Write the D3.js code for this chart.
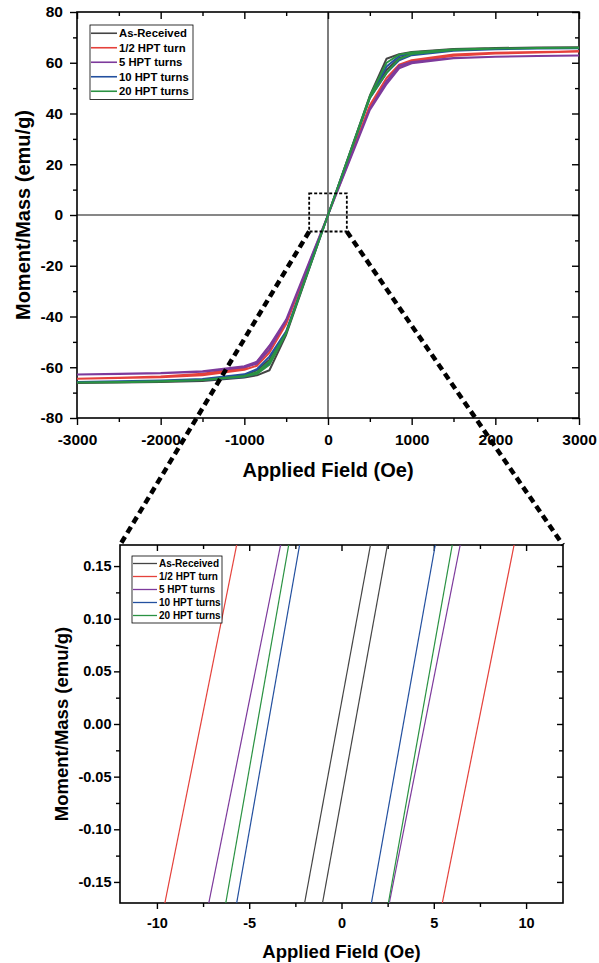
<!DOCTYPE html>
<html>
<head>
<meta charset="utf-8">
<script src="https://cdn.jsdelivr.net/npm/d3@7"></script>
<style>
  body { margin: 0; background: #fff; }
  text { font-family: "Liberation Sans", Arial, sans-serif; font-weight: bold; }
</style>
</head>
<body>
<div id="chart"></div>
<script>
// ---- data ----
const seriesNames = ["As-Received", "1/2 HPT turn", "5 HPT turns", "10 HPT turns", "20 HPT turns"];
const seriesColors = ["#444444", "#e5413b", "#7d3a9c", "#23509f", "#2a9242"];

// full loop: descending branch (+3000 -> -3000), then ascending branch
const fieldDesc = [3000, 2500, 2000, 1500, 1000, 850, 700, 500, 0, -500, -700, -850, -1000, -1500, -2000, -2500, -3000];
const fieldAsc = [-3000, -2500, -2000, -1500, -1000, -850, -700, -500, 0, 500, 700, 850, 1000, 1500, 2000, 2500, 3000];

const asReceivedDesc = [66.1, 66.0, 65.8, 65.4, 64.2, 63.4, 61.6, 47.0, 0.0, -46.2, -57.0, -61.2, -63.2, -65.0, -65.7, -66.0, -66.2];
const asReceivedAsc = [-66.2, -66.0, -65.8, -65.4, -64.0, -63.2, -61.2, -47.2, 0.0, 46.4, 57.2, 61.8, 63.6, 65.2, 65.8, 66.0, 66.1];
const halfTurnDesc = [64.4, 64.2, 63.9, 63.3, 61.0, 59.2, 54.0, 43.2, 0.0, -42.4, -51.8, -58.0, -60.2, -62.6, -63.6, -64.1, -64.5];
const halfTurnAsc = [-64.5, -64.2, -63.9, -63.2, -61.0, -59.4, -54.2, -43.0, 0.0, 42.6, 52.2, 58.2, 60.4, 62.8, 63.6, 64.0, 64.4];
const fiveTurnsDesc = [62.9, 62.7, 62.4, 61.9, 60.3, 58.8, 52.8, 41.8, 0.0, -41.2, -51.5, -57.8, -59.6, -61.6, -62.3, -62.6, -62.9];
const fiveTurnsAsc = [-62.9, -62.7, -62.4, -61.8, -60.0, -58.6, -53.0, -41.6, 0.0, 41.4, 51.6, 57.8, 59.8, 61.8, 62.4, 62.7, 62.9];
const tenTurnsDesc = [65.7, 65.6, 65.4, 65.0, 63.8, 62.6, 58.5, 46.4, 0.0, -45.8, -55.8, -60.8, -62.8, -64.6, -65.2, -65.5, -65.8];
const tenTurnsAsc = [-65.8, -65.6, -65.4, -65.0, -63.8, -62.4, -58.4, -46.2, 0.0, 46.0, 56.0, 61.0, 63.0, 64.7, 65.3, 65.6, 65.7];
const twentyTurnsDesc = [65.9, 65.8, 65.6, 65.2, 64.0, 63.2, 60.0, 46.8, 0.0, -46.4, -57.6, -62.0, -63.4, -65.0, -65.6, -65.9, -66.0];
const twentyTurnsAsc = [-66.0, -65.8, -65.5, -65.0, -63.6, -62.6, -59.0, -46.6, 0.0, 46.2, 56.0, 61.5, 63.4, 65.0, 65.6, 65.8, 65.9];

// zoomed window: field (Oe) where each branch crosses the bottom and top of the window
const zoomMoment = [-0.17, 0.17];
const zoomAsReceivedDesc = [-2.0, 1.57];
const zoomAsReceivedAsc = [-1.03, 2.49];
const zoomHalfTurnDesc = [-9.57, -5.68];
const zoomHalfTurnAsc = [5.46, 9.35];
const zoomFiveTurnsDesc = [-7.19, -3.30];
const zoomFiveTurnsAsc = [2.59, 6.43];
const zoomTenTurnsDesc = [-5.68, -2.27];
const zoomTenTurnsAsc = [1.62, 5.08];
const zoomTwentyTurnsDesc = [-6.27, -2.86];
const zoomTwentyTurnsAsc = [2.54, 6.00];

// zoom box drawn on the main plot (data units)
const zoomBoxField = [-225, 225];
const zoomBoxMoment = [-6.5, 8.5];

// ticks
const mainXTicks = [-3000, -2000, -1000, 0, 1000, 2000, 3000];
const mainXMinor = [-2500, -1500, -500, 500, 1500, 2500];
const mainYTicks = [-80, -60, -40, -20, 0, 20, 40, 60, 80];
const mainYMinor = [-70, -50, -30, -10, 10, 30, 50, 70];
const zoomXTicks = [-10, -5, 0, 5, 10];
const zoomXMinor = [-7.5, -2.5, 2.5, 7.5];
const zoomYTicks = [-0.15, -0.10, -0.05, 0.00, 0.05, 0.10, 0.15];
const zoomYMinor = [-0.125, -0.075, -0.025, 0.025, 0.075, 0.125];

// ---- build tables ----
const loops = [
    [asReceivedDesc, asReceivedAsc],
    [halfTurnDesc, halfTurnAsc],
    [fiveTurnsDesc, fiveTurnsAsc],
    [tenTurnsDesc, tenTurnsAsc],
    [twentyTurnsDesc, twentyTurnsAsc]
].map(([desc, asc], i) => ({
    name: seriesNames[i],
    color: seriesColors[i],
    points: fieldDesc.map((h, j) => ({h, m: desc[j]}))
        .concat(fieldAsc.map((h, j) => ({h, m: asc[j]})))
}));

const zoomLines = [
    [zoomAsReceivedDesc, zoomAsReceivedAsc],
    [zoomHalfTurnDesc, zoomHalfTurnAsc],
    [zoomFiveTurnsDesc, zoomFiveTurnsAsc],
    [zoomTenTurnsDesc, zoomTenTurnsAsc],
    [zoomTwentyTurnsDesc, zoomTwentyTurnsAsc]
].map(([desc, asc], i) => ({
    name: seriesNames[i],
    color: seriesColors[i],
    branches: [desc, asc].map(b => b.map((h, j) => ({h, m: zoomMoment[j]})))
}));

const W = 599, H = 963;
const svg = d3.select("#chart").append("svg")
    .attr("width", W)
    .attr("height", H);

const main = {
    x: d3.scaleLinear().domain([-3000, 3000]).range([77, 579]),
    y: d3.scaleLinear().domain([-80, 80]).range([418, 12]),
    xTicks: mainXTicks, xMinor: mainXMinor, yTicks: mainYTicks, yMinor: mainYMinor,
    major: 7, minor: 4, fontSize: 15.5, xPad: 9, yPad: 7,
    xFormat: d3.format("d"), yFormat: d3.format("d"),
    titleSize: 20, xTitleY: 477, yTitleX: 30
};
const zoom = {
    x: d3.scaleLinear().domain([-12, 12]).range([120, 563]),
    y: d3.scaleLinear().domain([-0.17, 0.17]).range([903, 545]),
    xTicks: zoomXTicks, xMinor: zoomXMinor, yTicks: zoomYTicks, yMinor: zoomYMinor,
    major: 6, minor: 4, fontSize: 14.5, xPad: 9, yPad: 2.5,
    xFormat: d3.format("d"), yFormat: d3.format(".2f"),
    titleSize: 18.5, xTitleY: 958, yTitleX: 68
};

function styleAxis(g, size) {
    g.select(".domain").remove();
    g.selectAll("line").attr("stroke", "#000").attr("stroke-width", 1.4);
    g.selectAll("text")
        .attr("font-size", size)
        .attr("font-family", '"Liberation Sans", Arial, sans-serif')
        .attr("font-weight", "bold")
        .attr("fill", "#000");
}

function drawFrame(p) {
    const [x0, x1] = p.x.range();
    const [y0, y1] = p.y.range();
    const fmtMinus = f => d => f(d).replace("\u2212", "-");

    // bottom
    svg.append("g").attr("transform", `translate(0,${y0})`)
        .call(d3.axisBottom(p.x).tickValues(p.xTicks).tickSize(p.major).tickPadding(p.xPad).tickFormat(fmtMinus(p.xFormat)))
        .call(g => styleAxis(g, p.fontSize));
    svg.append("g").attr("transform", `translate(0,${y0})`)
        .call(d3.axisBottom(p.x).tickValues(p.xMinor).tickSize(p.minor).tickFormat(""))
        .call(g => styleAxis(g, p.fontSize));
    // left
    svg.append("g").attr("transform", `translate(${x0},0)`)
        .call(d3.axisLeft(p.y).tickValues(p.yTicks).tickSize(p.major).tickPadding(p.yPad).tickFormat(fmtMinus(p.yFormat)))
        .call(g => styleAxis(g, p.fontSize));
    svg.append("g").attr("transform", `translate(${x0},0)`)
        .call(d3.axisLeft(p.y).tickValues(p.yMinor).tickSize(p.minor).tickFormat(""))
        .call(g => styleAxis(g, p.fontSize));
    // top (ticks inward)
    svg.append("g").attr("transform", `translate(0,${y1})`)
        .call(d3.axisBottom(p.x).tickValues(p.xTicks).tickSize(p.major).tickFormat(""))
        .call(g => styleAxis(g, p.fontSize));
    svg.append("g").attr("transform", `translate(0,${y1})`)
        .call(d3.axisBottom(p.x).tickValues(p.xMinor).tickSize(p.minor).tickFormat(""))
        .call(g => styleAxis(g, p.fontSize));
    // right (ticks inward)
    svg.append("g").attr("transform", `translate(${x1},0)`)
        .call(d3.axisLeft(p.y).tickValues(p.yTicks).tickSize(p.major).tickFormat(""))
        .call(g => styleAxis(g, p.fontSize));
    svg.append("g").attr("transform", `translate(${x1},0)`)
        .call(d3.axisLeft(p.y).tickValues(p.yMinor).tickSize(p.minor).tickFormat(""))
        .call(g => styleAxis(g, p.fontSize));

    svg.append("rect")
        .attr("x", x0).attr("y", y1)
        .attr("width", x1 - x0).attr("height", y0 - y1)
        .attr("fill", "none").attr("stroke", "#000").attr("stroke-width", 1.6);

    svg.append("text")
        .attr("x", (x0 + x1) / 2)
        .attr("y", p.xTitleY)
        .attr("text-anchor", "middle")
        .attr("font-size", p.titleSize)
        .text("Applied Field (Oe)");

    svg.append("text")
        .attr("transform", `translate(${p.yTitleX},${(y0 + y1) / 2}) rotate(-90)`)
        .attr("text-anchor", "middle")
        .attr("font-size", p.titleSize)
        .text("Moment/Mass (emu/g)");
}

function drawLegend(x, y, w, rowH, lineW, size, strokeW) {
    const g = svg.append("g").attr("transform", `translate(${x},${y})`);
    g.append("rect")
        .attr("width", w).attr("height", rowH * seriesNames.length + 2)
        .attr("fill", "#fff").attr("stroke", "#000").attr("stroke-width", 0.8);
    const row = g.selectAll(".legend")
        .data(seriesNames)
        .enter().append("g")
        .attr("transform", (d, i) => `translate(0,${rowH * (i + 0.5) + 1})`);
    row.append("line")
        .attr("x1", 1).attr("x2", lineW)
        .attr("stroke", (d, i) => seriesColors[i])
        .attr("stroke-width", strokeW);
    row.append("text")
        .attr("x", lineW + 2)
        .attr("dy", "0.36em")
        .attr("font-size", size)
        .text(d => d);
}

// ---- main plot ----
drawFrame(main);

svg.append("defs").append("clipPath").attr("id", "clipMain")
    .append("rect")
    .attr("x", main.x(-3000)).attr("y", main.y(80))
    .attr("width", main.x(3000) - main.x(-3000))
    .attr("height", main.y(-80) - main.y(80));

// zero lines
svg.append("line")
    .attr("x1", main.x(0)).attr("x2", main.x(0))
    .attr("y1", main.y(80)).attr("y2", main.y(-80))
    .attr("stroke", "#111").attr("stroke-width", 1.1);
svg.append("line")
    .attr("x1", main.x(-3000)).attr("x2", main.x(3000))
    .attr("y1", main.y(0)).attr("y2", main.y(0))
    .attr("stroke", "#111").attr("stroke-width", 1.1);

const loopLine = d3.line().x(d => main.x(d.h)).y(d => main.y(d.m));
svg.append("g").attr("clip-path", "url(#clipMain)")
    .selectAll("path")
    .data(loops)
    .enter().append("path")
    .attr("d", d => loopLine(d.points))
    .attr("fill", "none")
    .attr("stroke", d => d.color)
    .attr("stroke-width", 2)
    .attr("stroke-linejoin", "round");

// dashed zoom box
svg.append("rect")
    .attr("x", main.x(zoomBoxField[0]))
    .attr("y", main.y(zoomBoxMoment[1]))
    .attr("width", main.x(zoomBoxField[1]) - main.x(zoomBoxField[0]))
    .attr("height", main.y(zoomBoxMoment[0]) - main.y(zoomBoxMoment[1]))
    .attr("fill", "none").attr("stroke", "#000")
    .attr("stroke-width", 1.8).attr("stroke-dasharray", "3,2");

drawLegend(90, 25, 103, 14.5, 27, 11.3, 1.6);

// ---- zoomed plot ----
drawFrame(zoom);

svg.append("defs").append("clipPath").attr("id", "clipZoom")
    .append("rect")
    .attr("x", zoom.x(-12)).attr("y", zoom.y(0.17))
    .attr("width", zoom.x(12) - zoom.x(-12))
    .attr("height", zoom.y(-0.17) - zoom.y(0.17));

const zoomLine = d3.line().x(d => zoom.x(d.h)).y(d => zoom.y(d.m));
const zg = svg.append("g").attr("clip-path", "url(#clipZoom)");
zoomLines.forEach(s => {
    zg.selectAll(null)
        .data(s.branches)
        .enter().append("path")
        .attr("d", zoomLine)
        .attr("fill", "none")
        .attr("stroke", s.color)
        .attr("stroke-width", 1.2);
});

drawLegend(132, 556, 90, 13, 25, 10, 1.3);

// connectors from the zoom box to the zoomed plot
const connectors = [
    [[main.x(zoomBoxField[0]), main.y(zoomBoxMoment[0])], [zoom.x(-12), zoom.y(0.17)]],
    [[main.x(zoomBoxField[1]), main.y(zoomBoxMoment[0])], [zoom.x(12), zoom.y(0.17)]]
];
svg.selectAll(".connector")
    .data(connectors)
    .enter().append("line")
    .attr("class", "connector")
    .attr("x1", d => d[0][0]).attr("y1", d => d[0][1])
    .attr("x2", d => d[1][0]).attr("y2", d => d[1][1])
    .attr("stroke", "#000")
    .attr("stroke-width", 4.5)
    .attr("stroke-dasharray", "7,4.5");
</script>
</body>
</html>
